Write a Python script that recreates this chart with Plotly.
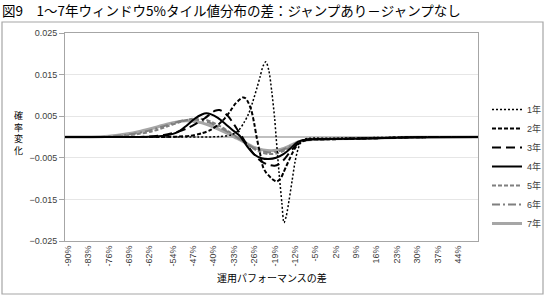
import plotly.graph_objects as go

# ---- data (x: performance difference in %, y: probability change) ----
x1 = [-91, -45, -38, -34, -31.5, -29.5, -28, -26.5, -25, -24, -23, -22, -21, -20, -19, -18.5, -17.5, -16.5, -15.8, -15, -14, -13, -12, -11, -10, -9, -7, 0, 15, 30, 51]
y1 = [0, 0, 0.0001, 0.0005, 0.0015, 0.0035, 0.0055, 0.0085, 0.012, 0.0145, 0.017, 0.0181, 0.016, 0.011, 0.0045, 0.0, -0.0085, -0.016, -0.0206, -0.019, -0.015, -0.0105, -0.006, -0.003, -0.0013, -0.0006, -0.0003, -0.0003, -0.00015, 0, 0]

x2 = [-91, -58, -52, -48, -44, -41, -38, -36, -34, -32.5, -31, -30, -29, -28, -27, -26, -25.2, -24, -23, -22, -21, -20, -19, -18.3, -17, -16, -15, -14, -13, -12, -11, -9, -7, 0, 15, 30, 51]
y2 = [0, 0, 0.0001, 0.0003, 0.0009, 0.0017, 0.0032, 0.0046, 0.0065, 0.008, 0.009, 0.0095, 0.0093, 0.0082, 0.0064, 0.0032, 0.0, -0.004, -0.0072, -0.0085, -0.0093, -0.0100, -0.0105, -0.0107, -0.0100, -0.0086, -0.0070, -0.0055, -0.0040, -0.0027, -0.0018, -0.0009, -0.0006, -0.00055, -0.0003, -0.00005, 0]

x3 = [-91, -68, -62, -57, -53, -49, -46, -43, -41, -39.5, -38, -36.5, -35, -33.5, -32, -30.5, -29, -27, -25, -23, -21, -19, -17.5, -16, -14.5, -13, -11.5, -10, -8, 0, 15, 30, 51]
y3 = [0, 0, 0.00015, 0.0005, 0.0011, 0.0021, 0.0032, 0.0045, 0.0056, 0.0063, 0.0065, 0.006, 0.005, 0.0036, 0.002, 0.0004, -0.0013, -0.0033, -0.005, -0.0061, -0.0067, -0.0069, -0.0065, -0.0056, -0.0043, -0.003, -0.0019, -0.0011, -0.0007, -0.0005, -0.0003, -0.00005, 0]

x4 = [-91, -66, -60, -56, -52.5, -49.5, -46.5, -44, -42.5, -41, -38.5, -36, -33.5, -31, -28.5, -26, -23.5, -21, -18.5, -16, -13.5, -11, -8, 0, 15, 30, 51]
y4 = [0, 0, 0.0001, 0.0004, 0.0011, 0.0026, 0.0044, 0.0054, 0.0057, 0.0055, 0.0046, 0.0032, 0.0017, 0.0003, -0.0022, -0.0042, -0.0051, -0.0053, -0.005, -0.0041, -0.0027, -0.0012, -0.0006, -0.0005, -0.0003, -0.00005, 0]

x5 = [-91, -78, -72, -66, -61, -56, -52, -48.5, -46, -43.5, -40.5, -37.5, -35, -32.5, -30, -27, -24, -21, -18, -15, -12, -9, 0, 15, 30, 51]
y5 = [0, 0, 0.0002, 0.0007, 0.0014, 0.0025, 0.0035, 0.0042, 0.0045, 0.0043, 0.0036, 0.0025, 0.0014, 0.0003, -0.0009, -0.0025, -0.0036, -0.0041, -0.0039, -0.003, -0.0018, -0.0009, -0.00055, -0.0003, -0.00005, 0]

x6 = [-91, -80, -74, -68, -63, -58, -54, -50, -47.5, -45, -42, -39, -36, -33, -30, -27, -24, -21, -18, -15, -12, -9, 0, 15, 30, 51]
y6 = [0, 0, 0.0002, 0.0007, 0.0014, 0.0024, 0.0033, 0.004, 0.0042, 0.0041, 0.0036, 0.0027, 0.0016, 0.0004, -0.0009, -0.0023, -0.0033, -0.0037, -0.0035, -0.0027, -0.0016, -0.0008, -0.0005, -0.0003, -0.00005, 0]

x7 = [-91, -82, -76, -70, -65, -60, -56, -52, -49.5, -47, -44, -41, -38, -35, -32, -29, -26, -23, -20, -17, -14, -11, -8, 0, 15, 30, 51]
y7 = [0, 0, 0.0002, 0.0007, 0.0014, 0.0023, 0.0031, 0.0037, 0.0039, 0.0038, 0.0034, 0.0027, 0.0018, 0.0008, -0.0003, -0.0014, -0.0025, -0.0031, -0.0033, -0.003, -0.0022, -0.0012, -0.0007, -0.00045, -0.00025, -0.00005, 0]

names = ["1年", "2年", "3年", "4年", "5年", "6年", "7年"]
x_tick_vals = [-90, -83, -76, -69, -62, -54, -47, -40, -33, -26, -19, -12, -5, 2, 9, 16, 23, 30, 37, 44]
y_tick_vals = [-0.025, -0.015, -0.005, 0.005, 0.015, 0.025]

title_text = "図9　1～7年ウィンドウ5%タイル値分布の差：ジャンプあり－ジャンプなし"
x_title = "運用パフォーマンスの差"
y_title = "確<br>率<br>変<br>化"

styles = [
    dict(color="#000000", width=1.5, dash="2px,2px"),
    dict(color="#000000", width=2, dash="4px,2px"),
    dict(color="#000000", width=2, dash="9px,5px"),
    dict(color="#000000", width=2, dash="solid"),
    dict(color="#7f7f7f", width=2, dash="4px,2px"),
    dict(color="#7f7f7f", width=2, dash="8px,3px,2px,3px"),
    dict(color="#a6a6a6", width=3, dash="solid"),
]

xs = [x1, x2, x3, x4, x5, x6, x7]
ys = [y1, y2, y3, y4, y5, y6, y7]

fig = go.Figure()
# draw 7年 first so the black series sit on top
for i in reversed(range(7)):
    fig.add_trace(go.Scatter(
        x=xs[i], y=ys[i], name=names[i], mode="lines",
        line=dict(shape="spline", smoothing=0.8, **styles[i]),
        legendrank=i + 1,
    ))

L, R, T, B = 65, 68, 33, 56
W, H = 546, 297
pw, ph = W - L - R, H - T - B

def px_to_x(px):
    return (px - L) / pw

def py_to_y(py):
    return (H - B - py) / ph

fig.update_layout(
    width=W, height=H,
    margin=dict(l=L, r=R, t=T, b=B, autoexpand=False),
    paper_bgcolor="white", plot_bgcolor="white",
    font=dict(family="Liberation Sans, Noto Sans CJK JP", size=9, color="#404040"),
    showlegend=True,
    legend=dict(
        x=px_to_x(487), y=py_to_y(95), xanchor="left", yanchor="top",
        font=dict(size=9, color="#404040"), tracegroupgap=0,
        bgcolor="rgba(0,0,0,0)", itemwidth=30,
    ),
    xaxis=dict(
        range=[-91.03, 50.87], tickmode="array", tickvals=x_tick_vals,
        ticktext=[f"{v}%" for v in x_tick_vals], tickangle=-90,
        showgrid=False, zeroline=False, showline=True, mirror=True,
        linecolor="#a6a6a6", linewidth=1, ticks="",
        tickfont=dict(size=9, color="#404040"),
    ),
    yaxis=dict(
        range=[-0.025, 0.025], tickmode="array", tickvals=y_tick_vals,
        tickformat=".3f", showgrid=True, gridcolor="#e6e6e6", gridwidth=1,
        zeroline=True, zerolinecolor="#bfbfbf", zerolinewidth=2,
        showline=True, mirror=True, linecolor="#a6a6a6", linewidth=1,
        ticks="outside", ticklen=5, tickcolor="#a6a6a6",
        tickfont=dict(size=9, color="#404040"),
    ),
    shapes=[dict(
        type="rect", xref="paper", yref="paper",
        x0=px_to_x(2), x1=px_to_x(543), y0=py_to_y(294), y1=py_to_y(22),
        line=dict(color="#a6a6a6", width=1.2), fillcolor="rgba(0,0,0,0)", layer="below",
    )],
    annotations=[
        dict(text=title_text, xref="paper", yref="paper", x=px_to_x(0), y=py_to_y(10),
             xanchor="left", yanchor="middle", showarrow=False,
             font=dict(family="Noto Sans CJK JP", size=13.5, color="#000000")),
        dict(text=x_title, xref="paper", yref="paper", x=0.5, y=py_to_y(277),
             xanchor="center", yanchor="middle", showarrow=False,
             font=dict(family="Noto Sans CJK JP", size=10, color="#000000")),
        dict(text=y_title, xref="paper", yref="paper", x=px_to_x(18), y=py_to_y(133),
             xanchor="center", yanchor="middle", showarrow=False,
             font=dict(family="Noto Sans CJK JP", size=9, color="#000000")),
    ],
)

fig.write_html("out.html")
